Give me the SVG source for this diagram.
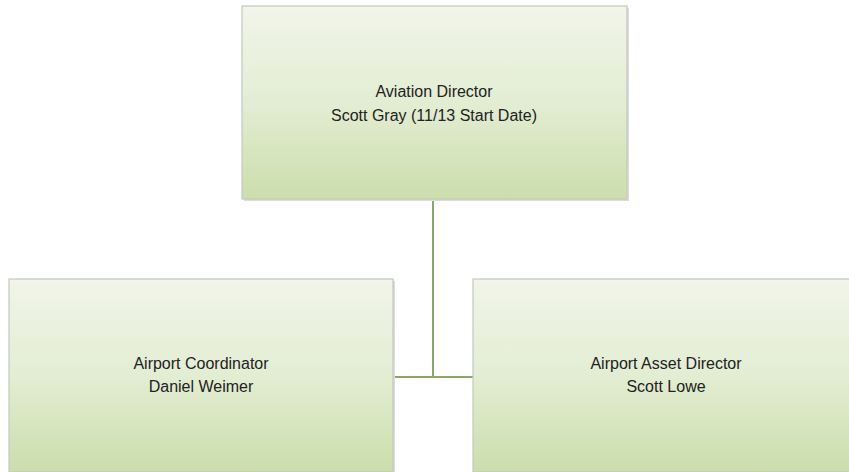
<svg xmlns="http://www.w3.org/2000/svg" width="849" height="472" viewBox="0 0 849 472">
  <defs>
    <linearGradient id="boxFill" x1="0" y1="0" x2="0" y2="1">
      <stop offset="0" stop-color="#f1f5ea"/>
      <stop offset="0.5" stop-color="#e3edd3"/>
      <stop offset="1" stop-color="#cbdeab"/>
    </linearGradient>
  </defs>
  <style>
    .box { fill: url(#boxFill); stroke: #c4c8bf; stroke-width: 1.2; }
    .shadow { fill: #dcdcdc; }
    .label { font-family: "Liberation Sans", Arial, sans-serif; font-size: 16px; fill: #222; text-anchor: middle; }
    .conn { stroke: #8aa864; stroke-width: 2; fill: none; }
  </style>
  <rect width="849" height="472" fill="#ffffff"/>

  <g id="connectors">
    <line class="conn" x1="433" y1="199" x2="433" y2="377"/>
    <line class="conn" x1="393" y1="377" x2="473" y2="377"/>
  </g>

  <g id="aviation-director">
    <rect class="shadow" x="244" y="8" width="385" height="193"/>
    <rect class="box" x="242" y="6" width="385" height="193"/>
    <text class="label" x="434" y="97">Aviation Director</text>
    <text class="label" x="434" y="121">Scott Gray (11/13 Start Date)</text>
  </g>

  <g id="airport-coordinator">
    <rect class="shadow" x="11" y="281" width="384" height="193"/>
    <rect class="box" x="9" y="279" width="384" height="193"/>
    <text class="label" x="201" y="369">Airport Coordinator</text>
    <text class="label" x="201" y="392">Daniel Weimer</text>
  </g>

  <g id="airport-asset-director">
    <rect class="shadow" x="475" y="281" width="385" height="193"/>
    <rect class="box" x="473" y="279" width="385" height="193"/>
    <text class="label" x="666" y="369">Airport Asset Director</text>
    <text class="label" x="666" y="392">Scott Lowe</text>
  </g>
</svg>
